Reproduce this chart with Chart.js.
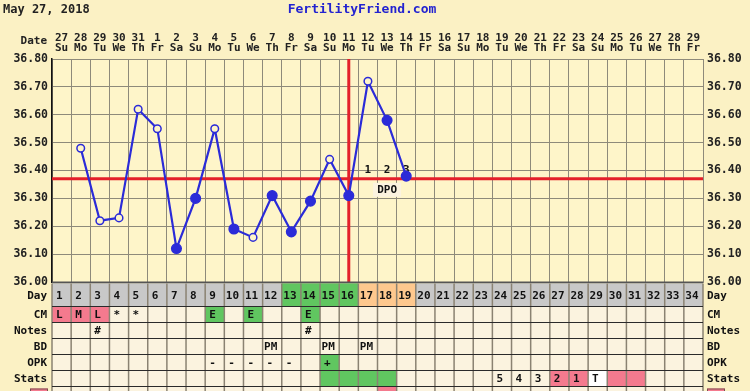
<!DOCTYPE html>
<html><head><meta charset="utf-8">
<script src="https://cdn.jsdelivr.net/npm/chart.js@4/dist/chart.umd.min.js"></script>
<style>html,body{margin:0;padding:0;background:#FBF1C4;}canvas{display:block}</style>
</head><body>
<canvas id="c" width="750" height="391"></canvas>
<script>
// ---------- data ----------
const cycleDays = ['1','2','3','4','5','6','7','8','9','10','11','12','13','14','15','16','17','18','19','20','21','22','23','24','25','26','27','28','29','30','31','32','33','34'];
const dates = ['27','28','29','30','31','1','2','3','4','5','6','7','8','9','10','11','12','13','14','15','16','17','18','19','20','21','22','23','24','25','26','27','28','29'];
const weekdays = ['Su','Mo','Tu','We','Th','Fr','Sa','Su','Mo','Tu','We','Th','Fr','Sa','Su','Mo','Tu','We','Th','Fr','Sa','Su','Mo','Tu','We','Th','Fr','Sa','Su','Mo','Tu','We','Th','Fr'];
const temps = [null,36.48,36.22,36.23,36.62,36.55,36.12,36.30,36.55,36.19,36.16,36.31,36.18,36.29,36.44,36.31,36.72,36.58,36.38,null,null,null,null,null,null,null,null,null,null,null,null,null,null,null];
const openDays = [2,3,4,5,6,9,11,15,17];
const coverline = 36.37;
const ovulationDay = 16;
const dpoDays = [17,18,19];
const dpoLabels = ['1','2','3'];
const yTickLabels = ['36.00','36.10','36.20','36.30','36.40','36.50','36.60','36.70','36.80'];
const dayColors = ['','','','','','','','','','','','','g','g','g','g','o','o','o','','','','','','','','','','','','','','',''];
const cmText  = ['L','M','L','*','*','','','','E','','E','','','E','','','','','','','','','','','','','','','','','','','',''];
const cmColor = ['p','p','p','','','','','','g','','g','','','g','','','','','','','','','','','','','','','','','','','',''];
const notesText = ['','','#','','','','','','','','','','','#','','','','','','','','','','','','','','','','','','','',''];
const bdText = ['','','','','','','','','','','','PM','','','PM','','PM','','','','','','','','','','','','','','','','',''];
const opkText = ['','','','','','','','','-','-','-','-','-','','+','','','','','','','','','','','','','','','','','','',''];
const opkColor = ['','','','','','','','','','','','','','','g','','','','','','','','','','','','','','','','','','',''];
const statsText = ['','','','','','','','','','','','','','','','','','','','','','','','5','4','3','2','1','T','','','','',''];
const statsColor = ['','','','','','','','','','','','','','','g','g','g','g','','','','','','','','','p','p','w','p','p','','',''];
const extraColor = ['','','','','','','','','','','','','','','','','','r','','','','','','','','','','','','','','','',''];

// ---------- styles ----------
const PAL = {p:'#F47A8E', g:'#60C660', o:'#FEC88E', w:'#FFFFFF', r:'#F47A8E', gray:'#C8C8C8', cell:'#FBF3DF'};
const FONT = "bold 11px 'DejaVu Sans Mono', monospace";
const BLUE = '#2B2BD8', RED = '#E4202A', GRID = '#8E8A7A';

const tablePlugin = {
  id: 'ffTable',
  beforeDraw(chart) {
    const ctx = chart.ctx, a = chart.chartArea;
    ctx.save();
    ctx.fillStyle = '#FBF1C4';
    ctx.fillRect(0, 0, chart.width, chart.height);
    ctx.fillStyle = '#FEF5C9';
    ctx.fillRect(a.left, a.top, a.right - a.left, a.bottom - a.top);
    ctx.restore();
  },
  beforeDatasetsDraw(chart) {
    const ctx = chart.ctx, a = chart.chartArea, xs = chart.scales.x, ys = chart.scales.y;
    ctx.save();
    const cy = ys.getPixelForValue(coverline);
    ctx.strokeStyle = RED; ctx.lineWidth = 3;
    ctx.beginPath(); ctx.moveTo(a.left, cy); ctx.lineTo(a.right, cy); ctx.stroke();
    const ox = xs.getPixelForValue(ovulationDay - 1);
    ctx.beginPath(); ctx.moveTo(ox, a.top); ctx.lineTo(ox, a.bottom); ctx.stroke();
    ctx.font = FONT; ctx.fillStyle = '#111'; ctx.textAlign = 'center'; ctx.textBaseline = 'middle';
    dpoDays.forEach((d, i) => {
      ctx.fillText(dpoLabels[i], xs.getPixelForValue(d - 1), cy - 9);
    });
    const mx = xs.getPixelForValue(dpoDays[1] - 1);
    ctx.fillStyle = '#FBF3DF';
    ctx.fillRect(mx - 14, cy + 4, 28, 14);
    ctx.fillStyle = '#111';
    ctx.fillText('DPO', mx, cy + 11);
    ctx.restore();
  },
  afterDraw(chart) {
    const ctx = chart.ctx, a = chart.chartArea, xs = chart.scales.x;
    const cw = xs.getPixelForValue(1) - xs.getPixelForValue(0);
    const n = cycleDays.length;
    const colL = i => xs.getPixelForValue(i) - cw / 2;
    ctx.save();
    ctx.font = "bold 12px 'DejaVu Sans Mono', monospace";
    ctx.fillStyle = '#222'; ctx.textAlign = 'left'; ctx.textBaseline = 'middle';
    ctx.fillText('May 27, 2018', 3, 10);
    ctx.font = "bold 13px 'DejaVu Sans Mono', monospace";
    ctx.fillStyle = '#2323D0'; ctx.textAlign = 'center';
    ctx.fillText('FertilityFriend.com', 362, 10);
    ctx.font = FONT; ctx.fillStyle = '#222'; ctx.textAlign = 'right';
    ctx.fillText('Date', 47, 41);

    ctx.strokeStyle = '#555'; ctx.lineWidth = 2;
    ctx.beginPath(); ctx.moveTo(a.left, a.bottom + 0.5); ctx.lineTo(a.right, a.bottom + 0.5); ctx.stroke();

    const dayTop = a.bottom + 1.5, dayH = 23, rowH = 16;
    for (let i = 0; i < n; i++) {
      ctx.fillStyle = dayColors[i] ? PAL[dayColors[i]] : PAL.gray;
      ctx.fillRect(colL(i), dayTop, cw, dayH);
    }
    const rows = [
      {label: 'CM', text: cmText, color: cmColor},
      {label: 'Notes', text: notesText, color: null},
      {label: 'BD', text: bdText, color: null},
      {label: 'OPK', text: opkText, color: opkColor},
      {label: 'Stats', text: statsText, color: statsColor},
      {label: '', text: null, color: extraColor}
    ];
    const rowTop = r => dayTop + dayH + r * rowH;
    rows.forEach((row, r) => {
      const t = rowTop(r);
      for (let i = 0; i < n; i++) {
        const c = row.color && row.color[i];
        ctx.fillStyle = c ? PAL[c] : PAL.cell;
        ctx.fillRect(colL(i), t, cw, rowH);
      }
    });
    ctx.strokeStyle = '#8A8272'; ctx.lineWidth = 1.5;
    for (let i = 0; i <= n; i++) {
      const x = a.left + i * cw;
      ctx.beginPath(); ctx.moveTo(x, dayTop); ctx.lineTo(x, chart.height); ctx.stroke();
    }
    ctx.strokeStyle = '#2A2A2A'; ctx.lineWidth = 1.2;
    for (let r = 0; r <= rows.length - 1; r++) {
      const y = rowTop(r);
      ctx.beginPath(); ctx.moveTo(a.left, y); ctx.lineTo(a.right, y); ctx.stroke();
    }
    ctx.font = FONT; ctx.fillStyle = '#111'; ctx.textAlign = 'left'; ctx.textBaseline = 'middle';
    for (let i = 0; i < n; i++) {
      ctx.fillText(cycleDays[i], colL(i) + (cycleDays[i].length > 1 ? 1.5 : 4), dayTop + dayH / 2 + 1);
    }
    rows.forEach((row, r) => {
      if (!row.text) return;
      const t = rowTop(r);
      for (let i = 0; i < n; i++) {
        if (row.text[i]) ctx.fillText(row.text[i], colL(i) + (row.text[i].length > 1 ? 1.5 : 4), t + rowH / 2 + 1);
      }
    });
    const lbls = ['Day'].concat(rows.map(r => r.label));
    const centers = [dayTop + dayH / 2 + 1].concat(rows.map((r, k) => rowTop(k) + rowH / 2 + 1));
    lbls.forEach((l, k) => {
      if (!l) return;
      ctx.textAlign = 'right'; ctx.fillText(l, 47, centers[k]);
      ctx.textAlign = 'left'; ctx.fillText(l, 707, centers[k]);
    });
    const lt = rowTop(5) + 2;
    ctx.fillStyle = PAL.p; ctx.strokeStyle = '#7A5050'; ctx.lineWidth = 1;
    ctx.fillRect(30, lt, 18, 10); ctx.strokeRect(30.5, lt + 0.5, 17, 10);
    ctx.fillRect(707, lt, 18, 10); ctx.strokeRect(707.5, lt + 0.5, 17, 10);
    ctx.restore();
  }
};

const pointBg = temps.map((v, i) => openDays.includes(i + 1) ? '#FEF5C9' : BLUE);
const pointR = temps.map((v, i) => openDays.includes(i + 1) ? 3.8 : 4.8);
const openDots = temps.map((v, i) => openDays.includes(i + 1) ? v : null);
const tickFont = {family: "'DejaVu Sans Mono', monospace", size: 11.5, weight: 'bold'};

new Chart(document.getElementById('c'), {
  type: 'line',
  data: {
    labels: cycleDays,
    datasets: [{
      data: temps,
      borderColor: BLUE,
      borderWidth: 2.2,
      pointBackgroundColor: pointBg,
      pointBorderColor: BLUE,
      pointBorderWidth: 1.5,
      pointRadius: pointR,
      tension: 0,
      spanGaps: false
    }, {
      data: openDots,
      showLine: false,
      pointRadius: 1.2,
      pointBackgroundColor: BLUE,
      pointBorderWidth: 0
    }]
  },
  options: {
    responsive: false,
    animation: false,
    events: [],
    layout: {padding: {top: 0, left: 0, right: 0, bottom: 109}},
    plugins: {legend: {display: false}, tooltip: {enabled: false}},
    scales: {
      x: {
        type: 'category',
        position: 'top',
        offset: true,
        grid: {offset: true, color: GRID, lineWidth: 1, drawTicks: false},
        border: {color: GRID},
        ticks: {
          autoSkip: false, maxRotation: 0, padding: 6, color: '#222',
          font: {family: "'DejaVu Sans Mono', monospace", size: 11, weight: 'bold', lineHeight: 0.92},
          callback: (v, i) => [dates[i], weekdays[i]]
        },
        afterFit: s => { s.height = 59; }
      },
      y: {
        position: 'left', min: 36.0, max: 36.8,
        grid: {color: GRID, lineWidth: 1, drawTicks: false},
        border: {color: '#111', width: 1.5},
        ticks: {
          stepSize: 0.05, padding: 4, color: '#222', font: tickFont,
          callback: v => { const k = Math.round(v * 100 - 3600); return k % 10 === 0 ? yTickLabels[k / 10] : ''; }
        },
        afterFit: s => { s.width = 52; }
      },
      y2: {
        position: 'right', min: 36.0, max: 36.8,
        grid: {drawOnChartArea: false, drawTicks: false},
        border: {color: GRID},
        ticks: {
          stepSize: 0.05, padding: 4, color: '#222', font: tickFont,
          callback: v => { const k = Math.round(v * 100 - 3600); return k % 10 === 0 ? yTickLabels[k / 10] : ''; }
        },
        afterFit: s => { s.width = 47; }
      }
    }
  },
  plugins: [tablePlugin]
});
</script>
</body></html>
